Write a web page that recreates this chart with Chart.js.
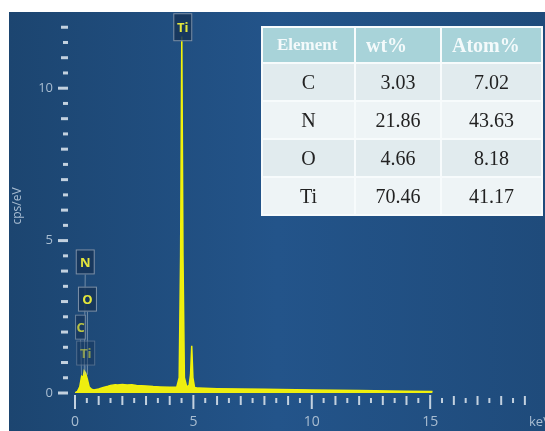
<!DOCTYPE html>
<html>
<head>
<meta charset="utf-8">
<script src="https://cdn.jsdelivr.net/npm/chart.js@4.4.0/dist/chart.umd.min.js"></script>
<style>
  body { margin: 0; background: #fff; }
  .wrap { position: relative; width: 545px; height: 431px; overflow: hidden; }
  canvas { position: absolute; left: 0; top: 0; }
  table.quant {
    position: absolute; left: 261px; top: 26px; width: 282px; height: 186px;
    border-collapse: collapse; table-layout: fixed;
    font-family: "Liberation Serif", "Times New Roman", serif;
  }
  table.quant th, table.quant td { border: 2px solid #f7fbfc; padding: 0; }
  table.quant th {
    background: #a8d3d9; color: #f4fafb; font-weight: bold; font-size: 20px;
    text-align: left; padding-left: 10px; height: 34px;
  }
  table.quant th.el { font-size: 17px; padding-left: 14px; }
  table.quant td { text-align: center; font-size: 20px; color: #222; height: 36px; }
  table.quant tr.odd td { background: #e1ebee; }
  table.quant tr.even td { background: #eef4f6; }
</style>
</head>
<body>
<div class="wrap">
  <canvas id="edsChart" width="545" height="431"></canvas>
  <table class="quant" id="quantTable"></table>
</div>
<script>
// Spectrum (keV, cps/eV)
const energy = [0, 0.1, 0.2, 0.28, 0.34, 0.39, 0.45, 0.52, 0.6, 0.7, 0.8, 1.0, 1.2, 1.4, 1.5, 1.7, 1.8, 2.0, 2.2, 2.4, 2.6, 2.8, 3.0, 3.3, 3.6, 4.0, 4.3, 4.4, 4.46, 4.51, 4.56, 4.62, 4.72, 4.82, 4.88, 4.93, 4.98, 5.05, 5.2, 6, 7, 8, 10, 12, 14, 15.1];
const counts = [0, 0.05, 0.2, 0.55, 0.5, 0.72, 0.65, 0.45, 0.2, 0.12, 0.1, 0.13, 0.18, 0.22, 0.25, 0.27, 0.26, 0.28, 0.26, 0.27, 0.25, 0.24, 0.23, 0.21, 0.2, 0.19, 0.2, 0.5, 4.5, 11.7, 4.5, 0.5, 0.2, 0.25, 0.6, 1.55, 0.5, 0.18, 0.16, 0.14, 0.13, 0.12, 0.1, 0.08, 0.06, 0.05];

// Peak markers
const markerElements = ['N', 'O', 'C', 'Ti', 'Ti'];
const markerEnergy = [0.39, 0.525, 0.277, 0.452, 4.51];

// Quantification table
const tableElements = ['C', 'N', 'O', 'Ti'];
const wtPercent = ['3.03', '21.86', '4.66', '70.46'];
const atomPercent = ['7.02', '43.63', '8.18', '41.17'];

// build table
const tbl = document.getElementById('quantTable');
let html = '<colgroup><col style="width:93px"><col style="width:86px"><col></colgroup>';
html += '<tr><th class="el">Element</th><th>wt%</th><th>Atom%</th></tr>';
tableElements.forEach((el, i) => {
    html += '<tr class="' + (i % 2 === 0 ? 'odd' : 'even') + '"><td>' + el + '</td><td>' + wtPercent[i] + '</td><td>' + atomPercent[i] + '</td></tr>';
});
tbl.innerHTML = html;

const backdrop = {
    id: 'backdrop',
    beforeDraw(chart) {
        const c = chart.ctx;
        const g = c.createLinearGradient(9, 0, 545, 0);
        g.addColorStop(0, '#1c4570');
        g.addColorStop(0.5, '#23548a');
        g.addColorStop(1, '#1f4b7b');
        c.save();
        c.fillStyle = g;
        c.fillRect(9, 12, 536, 419);
        c.restore();
    }
};

const decorations = {
    id: 'decorations',
    afterDraw(chart) {
        const c = chart.ctx;
        const xs = chart.scales.x, ys = chart.scales.y;
        c.save();
        // y tick marks
        c.fillStyle = '#c3d1df';
        ys.ticks.forEach(t => {
            if (t.value > 12.2 || t.value % 0.5 !== 0) return;
            const y = ys.getPixelForValue(t.value);
            let len = 5;
            if (t.value % 5 === 0) len = 10;
            else if (t.value % 1 === 0) len = 7;
            c.fillRect(68 - len, y - 1.5, len, 3);
        });
        // x tick marks
        xs.ticks.forEach(t => {
            if (t.value % 0.5 !== 0) return;
            const x = xs.getPixelForValue(t.value);
            let top = 398, h = 5;
            if (t.value % 5 === 0) { top = 395; h = 14; }
            else if (t.value % 1 === 0) { top = 396; h = 9; }
            c.fillRect(x - 1, top, 2, h);
        });
        // axis titles
        c.fillStyle = '#a9bdd1';
        c.font = '13px "Open Sans", sans-serif';
        c.textAlign = 'left';
        c.textBaseline = 'middle';
        c.fillText('keV', 529, 422);
        c.translate(18, 206);
        c.rotate(-Math.PI / 2);
        c.textAlign = 'center';
        c.font = '12px "Open Sans", sans-serif';
        c.fillText('cps/eV', 0, 0);
        c.restore();

        // element markers: vertical position in cps/eV
        const levels = [4.3, 3.08, 2.16, 1.31, 12.0];
        const shifts = [1, 0, -1, 0, 1];
        const alphas = [1, 1, 0.8, 0.55, 1];
        c.save();
        c.font = 'bold 13px "Open Sans", sans-serif';
        c.textAlign = 'center';
        c.textBaseline = 'middle';
        markerElements.forEach((el, i) => {
            const px = xs.getPixelForValue(markerEnergy[i]) + shifts[i];
            const py = ys.getPixelForValue(levels[i]);
            const w = el === 'C' ? 11 : 19, h = el === 'Ti' && i === 4 ? 28 : 25;
            c.globalAlpha = alphas[i];
            if (i < 4) {
                c.strokeStyle = 'rgba(170,185,200,0.6)';
                c.lineWidth = 1;
                c.beginPath();
                c.moveTo(px, py + h / 2);
                c.lineTo(xs.getPixelForValue(markerEnergy[i]), ys.getPixelForValue(0.6));
                c.stroke();
            }
            c.fillStyle = 'rgba(22,52,88,0.85)';
            c.fillRect(px - w / 2, py - h / 2, w, h);
            c.strokeStyle = 'rgba(160,178,196,0.75)';
            c.lineWidth = 1;
            c.strokeRect(px - w / 2 + 0.5, py - h / 2 + 0.5, w - 1, h - 1);
            c.fillStyle = '#e4e63c';
            c.fillText(el, px, py + 1);
        });
        c.restore();
    }
};

// drop the label padding chart.js reserves so the plot spans the whole panel
function noPad(s) {
    s.paddingTop = 0; s.paddingBottom = 0;
    s.paddingLeft = 0; s.paddingRight = 0;
}

const ctx = document.getElementById('edsChart').getContext('2d');
const edsChart = new Chart(ctx, {
    type: 'line',
    data: {
        datasets: [{
            data: energy.map((e, i) => ({ x: e, y: counts[i] })),
            borderColor: '#f2f20a',
            backgroundColor: '#eeee10',
            borderWidth: 1.5,
            fill: 'origin',
            pointRadius: 0,
            tension: 0
        }]
    },
    options: {
        responsive: false,
        animation: false,
        layout: { padding: { top: 12, left: 0, right: 0, bottom: 0 } },
        plugins: { legend: { display: false }, tooltip: { enabled: false } },
        scales: {
            x: {
                type: 'linear',
                min: 0,
                max: 19.85,
                border: { display: false },
                grid: { display: false, drawTicks: false },
                ticks: {
                    stepSize: 0.5,
                    autoSkip: false,
                    maxRotation: 0,
                    padding: 21,
                    color: '#a9bdd1',
                    font: { family: '"Open Sans", sans-serif', size: 14 },
                    callback: v => (v % 5 === 0 ? String(v) : '')
                },
                afterFit: s => { s.height = 38; noPad(s); }
            },
            y: {
                min: 0,
                max: 12.5,
                border: { display: false },
                grid: { display: false, drawTicks: false },
                ticks: {
                    stepSize: 0.5,
                    autoSkip: false,
                    padding: 22,
                    color: '#a9bdd1',
                    font: { family: '"Open Sans", sans-serif', size: 13 },
                    callback: v => (v % 5 === 0 ? String(v) : '')
                },
                afterFit: s => { s.width = 75; noPad(s); }
            }
        }
    },
    plugins: [backdrop, decorations]
});
</script>
</body>
</html>
